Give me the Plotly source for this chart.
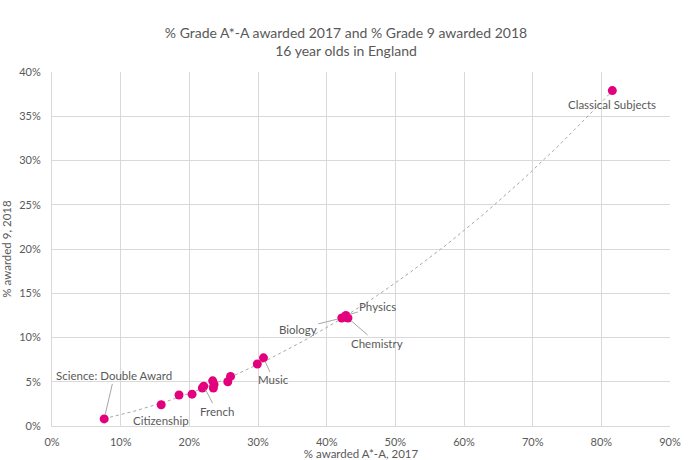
import numpy as np
import plotly.graph_objects as go

# Data (percent values)
subjects = ["Science: Double Award", "Citizenship", "s3", "s4", "French", "s6", "s7", "s8", "s9",
            "s10", "s11", "s12", "Music", "Biology", "Physics", "Chemistry", "Classical Subjects"]
pct_astar_a_2017 = [7.6, 15.9, 18.5, 20.4, 22.1, 21.9, 23.4, 23.6, 23.5,
                    25.6, 26.0, 29.9, 30.8, 42.2, 42.8, 43.1, 81.6]
pct_grade9_2018 = [0.8, 2.4, 3.5, 3.6, 4.5, 4.3, 5.1, 4.7, 4.3,
                   5.0, 5.6, 7.0, 7.7, 12.2, 12.5, 12.2, 37.9]

x_ticks = [0, 10, 20, 30, 40, 50, 60, 70, 80, 90]
y_ticks = [0, 5, 10, 15, 20, 25, 30, 35, 40]

# label placement: (subject, ax, ay, showarrow)
label_layout = {
    "Science: Double Award": (10, -43, True),
    "Citizenship": (0, 16, False),
    "French": (13, 25, True),
    "Music": (10, 22, True),
    "Biology": (-44, 11, True),
    "Physics": (32, -9, True),
    "Chemistry": (29, 25, True),
    "Classical Subjects": (0, 14, False),
}

x = np.array(pct_astar_a_2017) / 100
y = np.array(pct_grade9_2018) / 100

# Polynomial (order 2) trendline fitted to the data
coef = np.polyfit(x, y, 2)
xt = np.linspace(x.min(), x.max(), 200)
yt = np.polyval(coef, xt)

TXT = "#595959"
GRID = "#d9d9d9"
FONT = "Lato"

fig = go.Figure()
fig.add_trace(go.Scatter(x=xt, y=yt, mode="lines",
                         line=dict(color="#a6a6a6", width=1, dash="dot"),
                         hoverinfo="skip", showlegend=False))
fig.add_trace(go.Scatter(x=x, y=y, mode="markers", text=subjects,
                         marker=dict(color="#E2007C", size=9, line=dict(width=0)),
                         showlegend=False))

for name, (ax, ay, arrow) in label_layout.items():
    i = subjects.index(name)
    if arrow:
        fig.add_annotation(x=x[i], y=y[i], text=name, showarrow=True,
                           ax=ax, ay=ay, arrowhead=0, arrowwidth=1,
                           arrowcolor="#a6a6a6", standoff=4,
                           font=dict(family=FONT, size=11.5, color=TXT))
    else:
        fig.add_annotation(x=x[i], y=y[i], text=name, showarrow=False,
                           xshift=ax, yshift=-ay,
                           font=dict(family=FONT, size=11.5, color=TXT))

fig.update_layout(
    width=692, height=460,
    margin=dict(l=52, r=22, t=72, b=34),
    paper_bgcolor="white", plot_bgcolor="white",
    font=dict(family=FONT, size=11, color=TXT),
    title=dict(text="% Grade A*-A awarded 2017 and % Grade 9 awarded 2018<br>16 year olds in England",
               x=0.5, xref="container", xanchor="center",
               y=1 - 38 / 460, yref="container", yanchor="top",
               font=dict(family=FONT, size=14, color=TXT)),
    xaxis=dict(range=[0, 0.9], tickvals=[v / 100 for v in x_ticks],
               ticktext=[f"{v}%" for v in x_ticks],
               showgrid=True, gridcolor=GRID, gridwidth=1,
               showline=True, linecolor=GRID, linewidth=1,
               zeroline=False, ticks="", ticklabelstandoff=6, automargin=False,
               title=dict(text="% awarded A*-A, 2017", standoff=0,
                          font=dict(family=FONT, size=11.5, color=TXT))),
    yaxis=dict(range=[0, 0.4], tickvals=[v / 100 for v in y_ticks],
               ticktext=[f"{v}%" for v in y_ticks],
               showgrid=True, gridcolor=GRID, gridwidth=1,
               showline=True, linecolor=GRID, linewidth=1,
               zeroline=False, ticks="", ticklabelstandoff=8, automargin=False,
               title=dict(text="% awarded 9, 2018", standoff=6,
                          font=dict(family=FONT, size=11.5, color=TXT))),
)

fig.write_html("out.html", config={"displayModeBar": False},
               post_script="document.body.style.margin='0';")
